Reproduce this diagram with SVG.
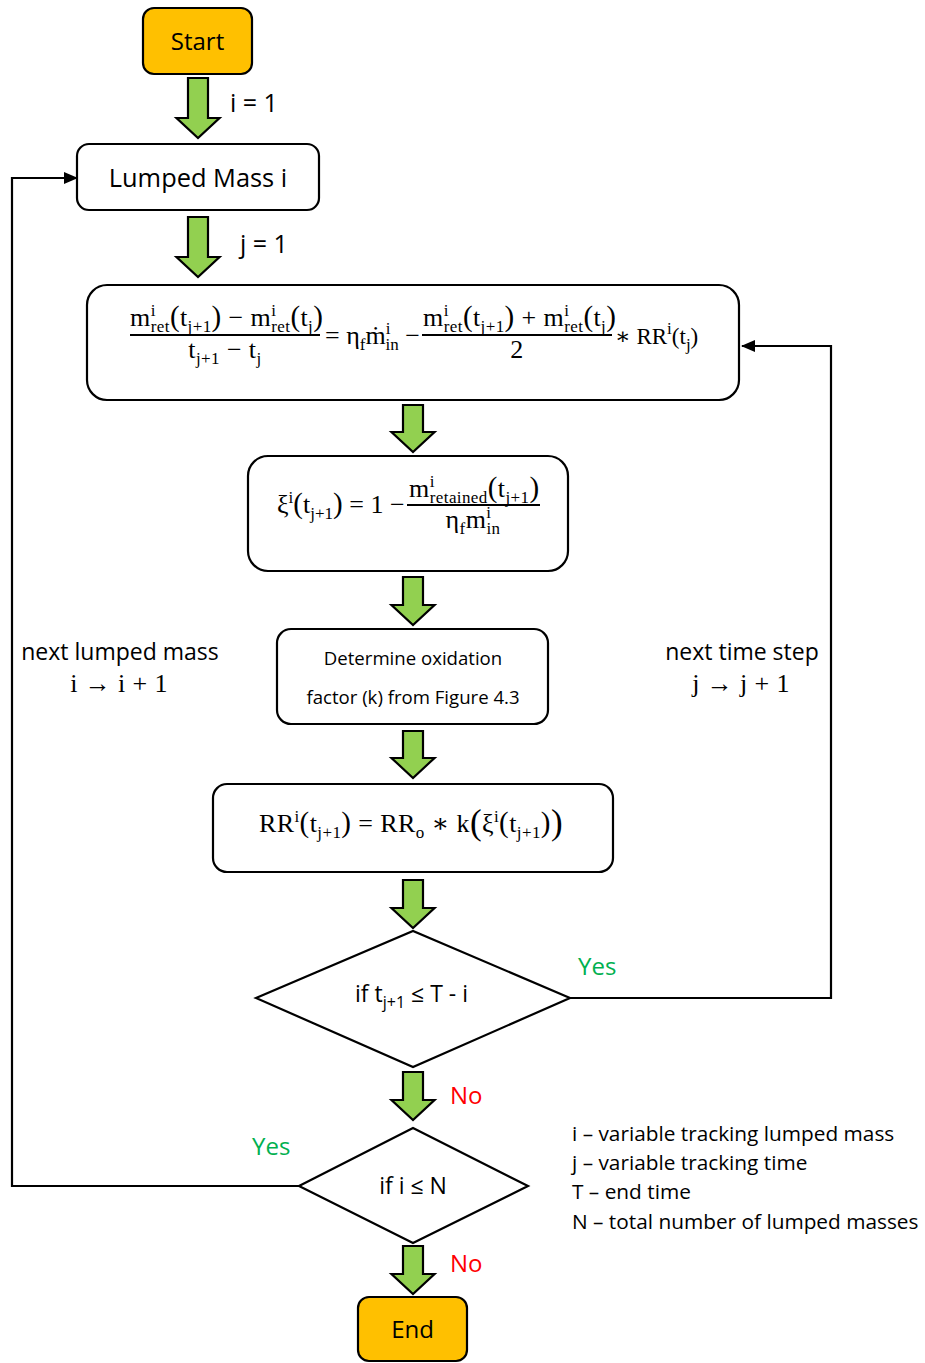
<svg xmlns="http://www.w3.org/2000/svg" width="925" height="1363" viewBox="0 0 925 1363">
<style>
.box{fill:#fff;stroke:#000;stroke-width:2.2}
.term{fill:#FFC000;stroke:#000;stroke-width:2.2}
.dia{fill:#fff;stroke:#000;stroke-width:2.2}
.barrow{fill:#92D050;stroke:#000;stroke-width:2.2;stroke-linejoin:miter}
.line{fill:none;stroke:#000;stroke-width:2.2}
.t{font-family:"Open Sans","Liberation Sans",sans-serif;fill:#000}
.eq{font-family:"Liberation Serif","DejaVu Serif",serif;font-size:26px;letter-spacing:0.4px;fill:#000}
.eqn{letter-spacing:0px}
.tail{font-size:23px}
.sb{font-size:17px}
.pr{font-size:29px}
.bp{font-size:35px}
.yes{fill:#00B050}
.no{fill:#FF0000}
</style>
<defs>
<marker id="ah" markerWidth="14" markerHeight="12" refX="13" refY="6" orient="auto" markerUnits="userSpaceOnUse">
<path d="M0,0 L14,6 L0,12 Z" fill="#000"/>
</marker>
</defs>

<g id="connectors">
<path class="barrow" d="M188,78 H208 V118 H219.5 L198,138 L176.5,118 H188 Z"/>
<path class="barrow" d="M188,217 H208 V257 H219.5 L198,277 L176.5,257 H188 Z"/>
<path class="barrow" d="M403,405 H423 V432 H434.5 L413,452 L391.5,432 H403 Z"/>
<path class="barrow" d="M403,577 H423 V605 H434.5 L413,625 L391.5,605 H403 Z"/>
<path class="barrow" d="M403,731 H423 V758 H434.5 L413,778 L391.5,758 H403 Z"/>
<path class="barrow" d="M403,880 H423 V908 H434.5 L413,928 L391.5,908 H403 Z"/>
<path class="barrow" d="M403,1072 H423 V1100 H434.5 L413,1120 L391.5,1100 H403 Z"/>
<path class="barrow" d="M403,1246 H423 V1274 H434.5 L413,1294 L391.5,1274 H403 Z"/>
<polyline class="line" points="570,998 831,998 831,346 742,346" marker-end="url(#ah)"/>
<polyline class="line" points="299,1186 12,1186 12,178 77,178" marker-end="url(#ah)"/>
<text class="t" x="230" y="112" font-size="25">i = 1</text>
<text class="t" x="240" y="253" font-size="25">j = 1</text>
<text class="t yes" x="578" y="975" font-size="24">Yes</text>
<text class="t no" x="450" y="1104" font-size="24">No</text>
<text class="t yes" x="252" y="1155" font-size="24">Yes</text>
<text class="t no" x="450" y="1272" font-size="24">No</text>
<text class="t" x="120" y="660" font-size="23" text-anchor="middle">next lumped mass</text>
<text class="eq" x="119" y="692" text-anchor="middle">i →  i + 1</text>
<text class="t" x="742" y="660" font-size="23" text-anchor="middle">next time step</text>
<text class="eq" x="741" y="692" text-anchor="middle">j →  j + 1</text>
</g>

<g id="start">
<rect class="term" x="143" y="8" width="109" height="66" rx="11"/>
<text class="t" x="197.5" y="50" font-size="24" text-anchor="middle">Start</text>
</g>

<g id="lumped-mass">
<rect class="box" x="77" y="144" width="242" height="66" rx="12"/>
<text class="t" x="198" y="187" font-size="25.4" text-anchor="middle">Lumped Mass i</text>
</g>

<g id="mass-balance">
<rect class="box" x="87" y="285" width="652" height="115" rx="20"/>
<text class="eq" x="130" y="326">m<tspan class="sb" dy="-10">i</tspan><tspan class="sb" dx="-5" dy="16">ret</tspan><tspan class="pr" dy="-6">(</tspan>t<tspan class="sb" dy="6">j+1</tspan><tspan class="pr" dy="-6">)</tspan> − m<tspan class="sb" dy="-10">i</tspan><tspan class="sb" dx="-5" dy="16">ret</tspan><tspan class="pr" dy="-6">(</tspan>t<tspan class="sb" dy="6">j</tspan><tspan class="pr" dy="-6">)</tspan></text>
<line class="line" x1="130" y1="335" x2="320" y2="335" stroke-width="1.3"/>
<text class="eq" x="225" y="358" text-anchor="middle">t<tspan class="sb" dy="6">j+1</tspan><tspan dy="-6"> − t</tspan><tspan class="sb" dy="6">j</tspan></text>
<text class="eq eqn" x="325" y="344">= η<tspan class="sb" dy="6">f</tspan><tspan dy="-6">ṁ</tspan><tspan class="sb" dy="-10">i</tspan><tspan class="sb" dx="-5" dy="16">in</tspan><tspan dy="-6"> −</tspan></text>
<text class="eq" x="423" y="326">m<tspan class="sb" dy="-10">i</tspan><tspan class="sb" dx="-5" dy="16">ret</tspan><tspan class="pr" dy="-6">(</tspan>t<tspan class="sb" dy="6">j+1</tspan><tspan class="pr" dy="-6">)</tspan> + m<tspan class="sb" dy="-10">i</tspan><tspan class="sb" dx="-5" dy="16">ret</tspan><tspan class="pr" dy="-6">(</tspan>t<tspan class="sb" dy="6">j</tspan><tspan class="pr" dy="-6">)</tspan></text>
<line class="line" x1="422" y1="335" x2="612" y2="335" stroke-width="1.3"/>
<text class="eq" x="517" y="358" text-anchor="middle">2</text>
<text class="eq eqn tail" x="615" y="344">∗ RR<tspan class="sb" dy="-10">i</tspan><tspan dy="10">(t</tspan><tspan class="sb" dy="6">j</tspan><tspan dy="-6">)</tspan></text>
</g>

<g id="conversion">
<rect class="box" x="248" y="456" width="320" height="115" rx="20"/>
<text class="eq eqn" x="277" y="513">ξ<tspan class="sb" dy="-10">i</tspan><tspan class="pr" dy="10">(</tspan>t<tspan class="sb" dy="6">j+1</tspan><tspan class="pr" dy="-6">)</tspan> = 1 −</text>
<text class="eq" x="409" y="497">m<tspan class="sb" dy="-10">i</tspan><tspan class="sb" dx="-5" dy="16">retained</tspan><tspan class="pr" dy="-6">(</tspan>t<tspan class="sb" dy="6">j+1</tspan><tspan class="pr" dy="-6">)</tspan></text>
<line class="line" x1="407" y1="505" x2="540" y2="505" stroke-width="1.3"/>
<text class="eq" x="473" y="528" text-anchor="middle">η<tspan class="sb" dy="6">f</tspan><tspan dy="-6">m</tspan><tspan class="sb" dy="-10">i</tspan><tspan class="sb" dx="-5" dy="16">in</tspan></text>
</g>

<g id="oxidation-factor">
<rect class="box" x="277" y="629" width="271" height="95" rx="14"/>
<text class="t" x="413" y="665" font-size="18.6" text-anchor="middle">Determine oxidation</text>
<text class="t" x="413" y="704" font-size="18.6" text-anchor="middle">factor (k) from Figure 4.3</text>
</g>

<g id="reaction-rate">
<rect class="box" x="213" y="784" width="400" height="88" rx="14"/>
<text class="eq" x="259" y="832">RR<tspan class="sb" dy="-10">i</tspan><tspan class="pr" dy="10">(</tspan>t<tspan class="sb" dy="6">j+1</tspan><tspan class="pr" dy="-6">)</tspan> = RR<tspan class="sb" dy="6">o</tspan><tspan dy="-6"> ∗ k</tspan><tspan class="bp" dy="2">(</tspan><tspan dy="-2">ξ</tspan><tspan class="sb" dy="-10">i</tspan><tspan class="pr" dy="10">(</tspan>t<tspan class="sb" dy="6">j+1</tspan><tspan class="pr" dy="-6">)</tspan><tspan class="bp" dy="2">)</tspan></text>
</g>

<g id="time-check">
<polygon class="dia" points="256,998 413,931 570,998 413,1067"/>
<text class="t" x="355" y="1002" font-size="23">if t<tspan font-size="16" dy="6">j+1</tspan><tspan dy="-6"> ≤ T - i</tspan></text>
</g>

<g id="mass-check">
<polygon class="dia" points="299,1186 413,1128 528,1186 413,1243"/>
<text class="t" x="413" y="1194" font-size="23" text-anchor="middle">if i ≤ N</text>
</g>

<g id="end">
<rect class="term" x="358" y="1297" width="109" height="64" rx="11"/>
<text class="t" x="412.5" y="1338" font-size="24" text-anchor="middle">End</text>
</g>

<g id="legend">
<text class="t" x="572" y="1141" font-size="20.8">i – variable tracking lumped mass</text>
<text class="t" x="572" y="1170" font-size="20.8">j – variable tracking time</text>
<text class="t" x="572" y="1199" font-size="20.8">T – end time</text>
<text class="t" x="572" y="1229" font-size="20.8">N – total number of lumped masses</text>
</g>
</svg>
